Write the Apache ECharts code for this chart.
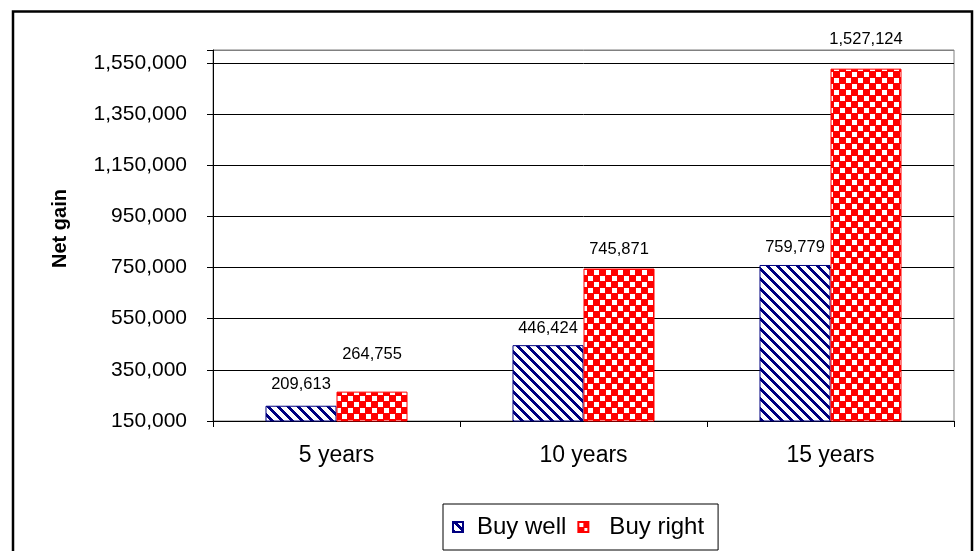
<!DOCTYPE html>
<html>
<head>
<meta charset="utf-8">
<script src="https://cdn.jsdelivr.net/npm/echarts@6/dist/echarts.min.js"></script>
<style>
html,body{margin:0;padding:0;background:#fff;}
#chart{width:974px;height:551px;}
</style>
</head>
<body>
<div id="chart"></div>
<script>
// ---- data ----
const categories = ['5 years', '10 years', '15 years'];
const buyWell = [209613, 446424, 759779];
const buyRight = [264755, 745871, 1527124];
const seriesNames = ['Buy well', 'Buy right'];
const yMin = 150000, yMax = 1600000, yStep = 200000;
// label offsets (styling only)
const buyWellLabelGap = [13, 8, 9];
const buyRightLabelGap = [29, 11, 21];

function fmt(v){ return String(v).replace(/\B(?=(\d{3})+(?!\d))/g, ','); }

function stripeTile(){
  const n = 10;
  const c = document.createElement('canvas'); c.width = n; c.height = n;
  const ctx = c.getContext('2d');
  ctx.fillStyle = '#ffffff'; ctx.fillRect(0,0,n,n);
  ctx.fillStyle = '#000080';
  for (let y=0;y<n;y++) for (let x=0;x<n;x++){
    const d = ((x - y) % n + n) % n;
    if (d < 4) ctx.fillRect(x,y,1,1);
  }
  return c;
}
function checkTile(){
  const c = document.createElement('canvas'); c.width = 12; c.height = 12;
  const ctx = c.getContext('2d');
  ctx.fillStyle = '#ff0000'; ctx.fillRect(0,0,12,12);
  ctx.fillStyle = '#ffffff';
  ctx.fillRect(0,0,5,5); ctx.fillRect(6,6,5,5);
  return c;
}

const chart = echarts.init(document.getElementById('chart'), null, {renderer:'canvas'});
const gridColors = [];
for (let v = yMin; v <= yMax; v += yStep) gridColors.push('#000000');
gridColors.push('#808080');

function mk(vals, gaps){
  return vals.map((v,i)=>({value:v, label:{distance:gaps[i]}}));
}

const legendFont = 'Arial, "Liberation Sans", sans-serif';
const option = {
  backgroundColor:'#ffffff',
  animation:false,
  textStyle:{fontFamily:'Arial, "Liberation Sans", sans-serif', color:'#000'},
  graphic:[{
    type:'rect', shape:{x:13, y:11.5, width:959, height:600},
    style:{fill:'none', stroke:'#000', lineWidth:2.5}, z:100
  }],
  grid:{left:213, right:20, top:50, bottom:130, show:true, borderColor:'#808080', borderWidth:1, backgroundColor:'#fff'},
  legend:{
    data:[
      {name:seriesNames[0], textStyle:{padding:[0,0,0,9]}},
      {name:seriesNames[1], textStyle:{padding:[0,0,0,16]}}
    ],
    left:443, top:504,
    padding:[11,14,11,9],
    borderColor:'#000', borderWidth:1,
    itemWidth:10, itemHeight:10, itemGap:11,
    icon:'rect',
    textStyle:{fontSize:24, color:'#000', fontFamily:legendFont}
  },
  xAxis:{
    type:'category', data:categories,
    axisLine:{lineStyle:{color:'#000', width:1}},
    axisTick:{show:true, length:6, lineStyle:{color:'#000'}},
    axisLabel:{fontSize:23, color:'#000', margin:23},
    splitLine:{show:false}
  },
  yAxis:{
    type:'value', min:yMin, max:yMax, interval:yStep,
    name:'Net gain', nameLocation:'middle', nameRotate:90, nameGap:143,
    nameTextStyle:{fontSize:20, fontWeight:'bold', color:'#000', padding:[0,0,0,14]},
    axisLine:{show:true, lineStyle:{color:'#000', width:1}},
    axisTick:{show:true, length:6, lineStyle:{color:'#000'}},
    axisLabel:{fontSize:21, color:'#000', margin:26, formatter:v=> (v===yMax? '' : fmt(v))},
    splitLine:{show:true, lineStyle:{color:gridColors, width:1}}
  },
  series:[
    {
      name:seriesNames[0], type:'bar', data:mk(buyWell, buyWellLabelGap),
      barGap:'0%', barCategoryGap:'42.5%',
      itemStyle:{color:{image:stripeTile(), repeat:'repeat'}, borderColor:'#000080', borderWidth:1},
      label:{show:true, position:'top', fontSize:16.5, color:'#000', formatter:p=>fmt(p.value)}
    },
    {
      name:seriesNames[1], type:'bar', data:mk(buyRight, buyRightLabelGap),
      barGap:'0%', barCategoryGap:'42.5%',
      itemStyle:{color:{image:checkTile(), repeat:'repeat'}, borderColor:'#ff0000', borderWidth:1},
      label:{show:true, position:'top', fontSize:16.5, color:'#000', formatter:p=>fmt(p.value)}
    }
  ]
};
chart.setOption(option);
</script>
</body>
</html>
